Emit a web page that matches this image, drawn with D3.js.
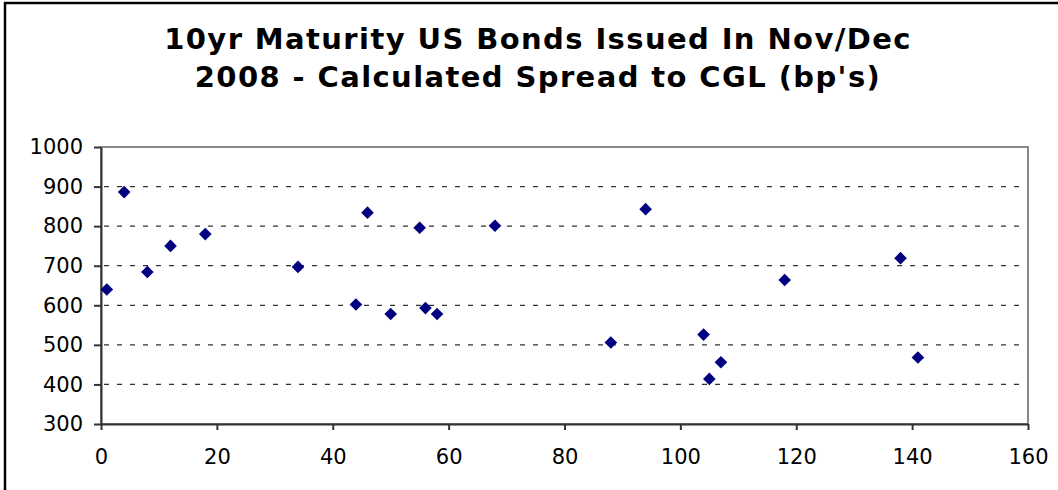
<!DOCTYPE html>
<html>
<head>
<meta charset="utf-8">
<script src="https://cdn.jsdelivr.net/npm/d3@7"></script>
<style>
  body { margin: 0; background: #fff; }
  svg { display: block; font-family: "DejaVu Sans", Verdana, sans-serif; }
  .axis text { font-family: "DejaVu Sans", Verdana, sans-serif; font-size: 21px; fill: #000; }
  .axis path, .axis line { stroke: #333; stroke-width: 2px; }
</style>
</head>
<body>
<div class="chart"></div>
<script>
// Data: days after issue (x) vs spread to CGL in bp (y)
var xValues = [1, 4, 8, 12, 18, 34, 44, 46, 50, 55, 56, 58, 68, 88, 94, 104, 105, 107, 118, 138, 141];
var yValues = [640, 886, 684, 750, 780, 697, 602, 834, 578, 796, 593, 578, 801, 506, 843, 526, 414, 456, 664, 719, 468];
var xTicks = [0, 20, 40, 60, 80, 100, 120, 140, 160];
var yTicks = [300, 400, 500, 600, 700, 800, 900, 1000];
var titleLines = ["10yr Maturity US Bonds Issued In Nov/Dec", "2008 - Calculated Spread to CGL (bp's)"];

var svgWidth = 1058;
var svgHeight = 490;
var margin = { top: 147, right: 30, bottom: 66, left: 101 };
var width = svgWidth - margin.left - margin.right;
var height = svgHeight - margin.top - margin.bottom;

var svg = d3.select(".chart")
  .append("svg")
  .attr("width", svgWidth)
  .attr("height", svgHeight);

// outer chart frame (runs off the right and bottom edges)
svg.append("rect")
  .attr("x", 5)
  .attr("y", 3)
  .attr("width", svgWidth + 20)
  .attr("height", svgHeight + 20)
  .attr("fill", "none")
  .attr("stroke", "#000")
  .attr("stroke-width", 2.5);

// title
svg.append("text")
  .attr("x", 538)
  .attr("y", 49)
  .attr("text-anchor", "middle")
  .style("font-size", "29px")
  .style("font-weight", "bold")
  .style("letter-spacing", "1.4px")
  .selectAll("tspan")
  .data(titleLines)
  .enter()
  .append("tspan")
  .attr("x", 538)
  .attr("dy", function(d, i) { return i === 0 ? 0 : 38; })
  .text(function(d) { return d; });

var chart = svg.append("g")
  .attr("transform", "translate(" + margin.left + "," + margin.top + ")");

var xScale = d3.scaleLinear().domain([0, 160]).range([0, width]);
var yScale = d3.scaleLinear().domain([300, 1000]).range([height, 0]);

// plot area border (grey top/right)
chart.append("rect")
  .attr("width", width)
  .attr("height", height)
  .attr("fill", "#fff")
  .attr("stroke", "#888")
  .attr("stroke-width", 2);

// dashed gridlines
chart.append("g")
  .selectAll("line")
  .data(yTicks.filter(function(t) { return t > 300 && t < 1000; }))
  .enter()
  .append("line")
  .attr("x1", 3)
  .attr("x2", width - 3)
  .attr("y1", function(d) { return yScale(d); })
  .attr("y2", function(d) { return yScale(d); })
  .attr("stroke", "#333")
  .attr("stroke-width", 1.3)
  .attr("stroke-dasharray", "5,8");

// axes
chart.append("g")
  .attr("class", "axis")
  .attr("transform", "translate(0," + height + ")")
  .call(d3.axisBottom(xScale).tickValues(xTicks).tickFormat(d3.format("d"))
    .tickSize(6).tickPadding(19).tickSizeOuter(0));

chart.append("g")
  .attr("class", "axis")
  .call(d3.axisLeft(yScale).tickValues(yTicks).tickFormat(d3.format("d"))
    .tickSize(7).tickPadding(11).tickSizeOuter(0));

// diamond markers
var points = xValues.map(function(x, i) { return { x: x, y: yValues[i] }; });
chart.append("g")
  .selectAll("path")
  .data(points)
  .enter()
  .append("path")
  .attr("d", d3.symbol().type(d3.symbolSquare).size(80))
  .attr("transform", function(d) {
    return "translate(" + xScale(d.x) + "," + yScale(d.y) + ") rotate(45)";
  })
  .attr("fill", "#000080");
</script>
</body>
</html>
